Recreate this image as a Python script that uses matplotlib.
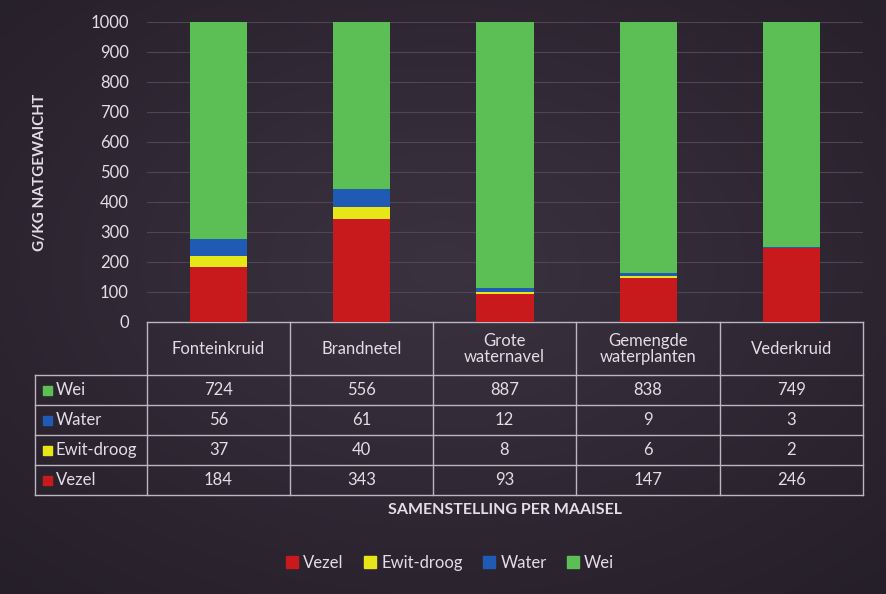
import numpy as np
import matplotlib
matplotlib.use("Agg")
import matplotlib.pyplot as plt
from matplotlib.patches import Patch, Rectangle

plt.rcParams['font.family'] = ['Lato', 'DejaVu Sans']

categories = ["Fonteinkruid", "Brandnetel", "Grote\nwaternavel", "Gemengde\nwaterplanten", "Vederkruid"]
series = ["Vezel", "Ewit-droog", "Water", "Wei"]
vezel = [184, 343, 93, 147, 246]
ewit = [37, 40, 8, 6, 2]
water = [56, 61, 12, 9, 3]
wei = [724, 556, 887, 838, 749]
colors = ["#c8191d", "#e6e619", "#1f5ab4", "#5cbf55"]

txt = "#e2dde6"
W, H = 886, 594
fig = plt.figure(figsize=(W / 100, H / 100), dpi=100)

# background with a soft vignette
bg = fig.add_axes([0, 0, 1, 1])
yy, xx = np.mgrid[0:1:200j, 0:1:300j]
r = np.sqrt(((xx - 0.5) / 0.75) ** 2 + ((yy - 0.45) / 0.75) ** 2)
r = np.clip(r, 0, 1)
c_in = np.array([0x3b, 0x32, 0x40]) / 255
c_out = np.array([0x25, 0x1f, 0x29]) / 255
img = c_in[None, None, :] * (1 - r[..., None]) + c_out[None, None, :] * r[..., None]
bg.imshow(img, extent=[0, W, H, 0], aspect='auto')
bg.set_xlim(0, W)
bg.set_ylim(H, 0)
bg.axis('off')

# bar chart
ax = fig.add_axes([147 / W, (H - 322) / H, (863 - 147) / W, 300 / H])
ax.set_facecolor('none')
x = np.arange(len(categories))
bottom = np.zeros(len(categories))
for vals, col, name in zip([vezel, ewit, water, wei], colors, series):
    ax.bar(x, vals, 0.4, bottom=bottom, color=col, label=name, zorder=3)
    bottom += np.array(vals)
ax.set_xlim(-0.5, len(categories) - 0.5)
ax.set_ylim(0, 1000)
ax.set_yticks(range(0, 1001, 100))
ax.yaxis.grid(True, color="#4f4655", linewidth=0.8, zorder=0)
ax.tick_params(axis='y', length=0, pad=13, labelsize=12, labelcolor=txt)
ax.set_xticks([])
for s in ax.spines.values():
    s.set_visible(False)
fig.text(40 / W, 1 - 172 / H, "G/KG NATGEWAICHT", rotation=90, color=txt,
         fontsize=11, fontweight='bold', ha='center', va='center')

# data table drawn in pixel coordinates on the background axes
lc = "#bcb5c2"
cols = [147, 290, 433, 576, 720, 863]
rows = [322, 375, 405, 435, 465, 495]
bg.plot([147, 863], [322, 322], color=lc, lw=1)
for yv in rows[1:]:
    bg.plot([35, 863], [yv, yv], color=lc, lw=1)
for xv in cols:
    bg.plot([xv, xv], [322, 495], color=lc, lw=1)
bg.plot([35, 35], [375, 495], color=lc, lw=1)
for i, cat in enumerate(categories):
    cx = (cols[i] + cols[i + 1]) / 2
    bg.text(cx, 349, cat, color=txt, fontsize=12, ha='center', va='center',
            linespacing=1.05)
table_rows = [("Wei", wei, colors[3]), ("Water", water, colors[2]),
              ("Ewit-droog", ewit, colors[1]), ("Vezel", vezel, colors[0])]
for j, (name, vals, col) in enumerate(table_rows):
    cy = (rows[j + 1] + rows[j + 2]) / 2
    bg.add_patch(Rectangle((43, cy - 4.5), 9, 9, color=col))
    bg.text(56, cy, name, color=txt, fontsize=12, ha='left', va='center')
    for i, v in enumerate(vals):
        cx = (cols[i] + cols[i + 1]) / 2
        bg.text(cx, cy, str(v), color=txt, fontsize=12, ha='center', va='center')

bg.text(505, 510, "SAMENSTELLING PER MAAISEL", color=txt, fontsize=11.5,
        fontweight='bold', ha='center', va='center')

handles = [Patch(color=c, label=n) for c, n in zip(colors, series)]
fig.legend(handles=handles, loc='center', bbox_to_anchor=(450 / W, 1 - 563 / H),
           ncol=4, frameon=False, fontsize=12, labelcolor=txt,
           handlelength=0.75, handleheight=0.75, handletextpad=0.3, columnspacing=1.2)

fig.savefig("out.png", dpi=100)
